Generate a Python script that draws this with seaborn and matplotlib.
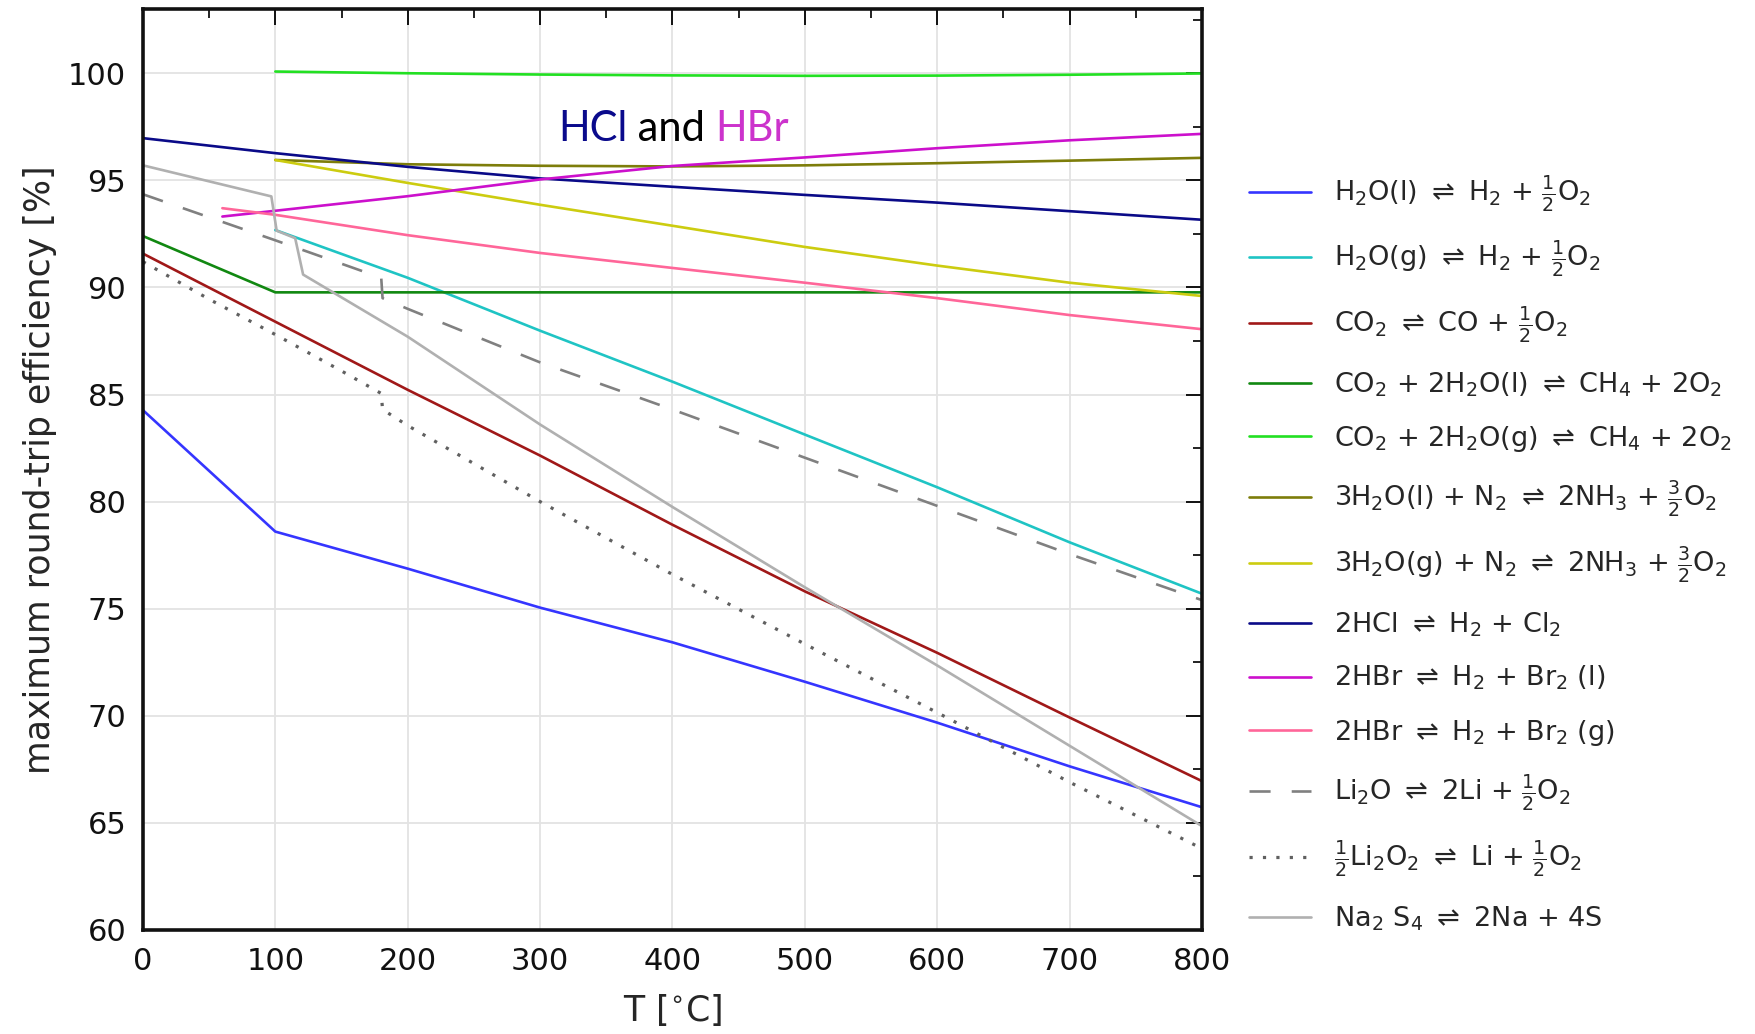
import numpy as np
import pandas as pd
import matplotlib
matplotlib.use("Agg")
import matplotlib.pyplot as plt
import seaborn as sns
from matplotlib.ticker import MultipleLocator

# ---------------- data ----------------
T_full = [0, 100, 200, 300, 400, 500, 600, 700, 800]
T_100 = [100, 200, 300, 400, 500, 600, 700, 800]

h2o_l = [84.27, 78.6, 76.87, 75.05, 73.43, 71.59, 69.68, 67.64, 65.73]
h2o_g = [92.68, 90.45, 87.98, 85.6, 83.13, 80.67, 78.1, 75.7]
co2 = [91.58, 88.4, 85.22, 82.15, 78.92, 75.81, 72.94, 69.92, 66.95]

ch4_l_T = [0, 100, 200, 300, 400, 500, 600, 700, 800]
ch4_l = [92.4, 89.77, 89.77, 89.77, 89.77, 89.77, 89.77, 89.77, 89.77]
ch4_g = [100.08, 100.0, 99.94, 99.9, 99.88, 99.89, 99.93, 99.99]

nh3_l = [95.95, 95.75, 95.68, 95.65, 95.7, 95.8, 95.92, 96.05]
nh3_g = [95.95, 94.88, 93.86, 92.88, 91.89, 91.02, 90.22, 89.6]

hcl = [96.97, 96.27, 95.63, 95.09, 94.7, 94.32, 93.96, 93.56, 93.16]

hbr_T = [60, 100, 200, 300, 400, 500, 600, 700, 800]
hbr_l = [93.31, 93.58, 94.26, 95.04, 95.67, 96.07, 96.5, 96.87, 97.17]
hbr_g = [93.7, 93.39, 92.44, 91.61, 90.91, 90.22, 89.5, 88.71, 88.05]

li2o_T = [0, 100, 180, 181, 200, 300, 400, 500, 600, 700, 800]
li2o = [94.35, 92.2, 90.45, 89.5, 89.0, 86.5, 84.3, 82.05, 79.8, 77.55, 75.4]

li2o2_T = [0, 50, 100, 150, 180, 181, 200, 300, 400, 500, 600, 700, 800]
li2o2 = [91.2, 89.45, 87.8, 86.1, 85.05, 84.3, 83.55, 80.0, 76.6, 73.35, 70.15, 66.9, 63.8]

na2s4_T = [0, 97, 101, 115, 121, 200, 300, 400, 500, 600, 700, 800]
na2s4 = [95.7, 94.25, 92.65, 92.3, 90.6, 87.7, 83.6, 79.75, 76.0, 72.35, 68.6, 64.85]

labels = [
    r'H$_2$O(l) $\rightleftharpoons$ H$_2$ + $\frac{1}{2}$O$_2$',
    r'H$_2$O(g) $\rightleftharpoons$ H$_2$ + $\frac{1}{2}$O$_2$',
    r'CO$_2$ $\rightleftharpoons$ CO + $\frac{1}{2}$O$_2$',
    r'CO$_2$ + 2H$_2$O(l) $\rightleftharpoons$ CH$_4$ + 2O$_2$',
    r'CO$_2$ + 2H$_2$O(g) $\rightleftharpoons$ CH$_4$ + 2O$_2$',
    r'3H$_2$O(l) + N$_2$ $\rightleftharpoons$ 2NH$_3$ + $\frac{3}{2}$O$_2$',
    r'3H$_2$O(g) + N$_2$ $\rightleftharpoons$ 2NH$_3$ + $\frac{3}{2}$O$_2$',
    r'2HCl $\rightleftharpoons$ H$_2$ + Cl$_2$',
    r'2HBr $\rightleftharpoons$ H$_2$ + Br$_2$ (l)',
    r'2HBr $\rightleftharpoons$ H$_2$ + Br$_2$ (g)',
    r'Li$_2$O $\rightleftharpoons$ 2Li + $\frac{1}{2}$O$_2$',
    r'$\frac{1}{2}$Li$_2$O$_2$ $\rightleftharpoons$ Li + $\frac{1}{2}$O$_2$',
    r'Na$_2$ S$_4$ $\rightleftharpoons$ 2Na + 4S',
]

x_ticks = [0, 100, 200, 300, 400, 500, 600, 700, 800]
y_ticks = [60, 65, 70, 75, 80, 85, 90, 95, 100]

# ---------------- plotting ----------------
sns.set_style("white")
plt.rcParams['font.family'] = ['DejaVu Sans']
plt.rcParams['mathtext.fontset'] = 'dejavusans'

fig = plt.figure(figsize=(17.56, 10.34), dpi=100)
ax = fig.add_axes([0.0814, 0.1006, 0.6031, 0.8907])

lw = 1.9
dotted = (0, (1, 3.2))
series = [
    (T_full, h2o_l, '#3535ff', '-'),
    (T_100, h2o_g, '#1fc4c4', '-'),
    (T_full, co2, '#a01818', '-'),
    (ch4_l_T, ch4_l, '#118811', '-'),
    (T_100, ch4_g, '#22e022', '-'),
    (T_100, nh3_l, '#7d7d0a', '-'),
    (T_100, nh3_g, '#cccc10', '-'),
    (T_full, hcl, '#0a0a88', '-'),
    (hbr_T, hbr_l, '#cc10cc', '-'),
    (hbr_T, hbr_g, '#ff6699', '-'),
    (li2o_T, li2o, '#808080', (0, (8, 8))),
    (li2o2_T, li2o2, '#606060', dotted),
    (na2s4_T, na2s4, '#b0b0b0', '-'),
]

for (xs, ys, col, ls), lab in zip(series, labels):
    df = pd.DataFrame({'T': xs, 'eff': ys})
    sns.lineplot(data=df, x='T', y='eff', ax=ax, color=col, linestyle=ls,
                 linewidth=2.3 if ls == dotted else lw, label=lab,
                 sort=False, estimator=None)

ax.set_xlim(0, 800)
ax.set_ylim(60, 103)
ax.set_xticks(x_ticks)
ax.set_yticks(y_ticks)
ax.xaxis.set_minor_locator(MultipleLocator(50))
ax.yaxis.set_minor_locator(MultipleLocator(2.5))
ax.tick_params(which='both', direction='in', top=True, right=True,
               colors='#111111')
ax.tick_params(which='major', length=11.5, width=1.4, labelsize=22, pad=12)
ax.tick_params(which='minor', length=6.5, width=1.3)
ax.grid(True, which='major', color='#e3e3e3', linewidth=1.3)
ax.set_axisbelow(True)
for s in ax.spines.values():
    s.set_color('#111111')
    s.set_linewidth(2.6)

ax.set_xlabel(r'T [$^{\circ}$C]', fontsize=25, labelpad=12)
ax.set_ylabel('maximum round-trip efficiency [%]', fontsize=25, labelpad=8)

leg = ax.legend(loc='upper left', bbox_to_anchor=(0.705, 0.843),
                bbox_transform=fig.transFigure, frameon=False,
                fontsize=19.5, handlelength=2.3, handletextpad=0.85,
                labelspacing=0.93, borderaxespad=0)

# "HCl and HBr" annotation
t1 = ax.text(313.5, 96.86, 'HCl', color='#0a0a8c', fontsize=30,
             family=['Lato', 'DejaVu Sans'], ha='left', va='baseline')
t2 = ax.annotate(' and ', xy=(1, 0), xycoords=t1, ha='left', va='bottom',
                 color='black', fontsize=30, family=['Lato', 'DejaVu Sans'])
t3 = ax.annotate('HBr', xy=(1, 0), xycoords=t2, ha='left', va='bottom',
                 color='#cc33cc', fontsize=30, family=['Lato', 'DejaVu Sans'])

fig.savefig('out.png', dpi=100)
